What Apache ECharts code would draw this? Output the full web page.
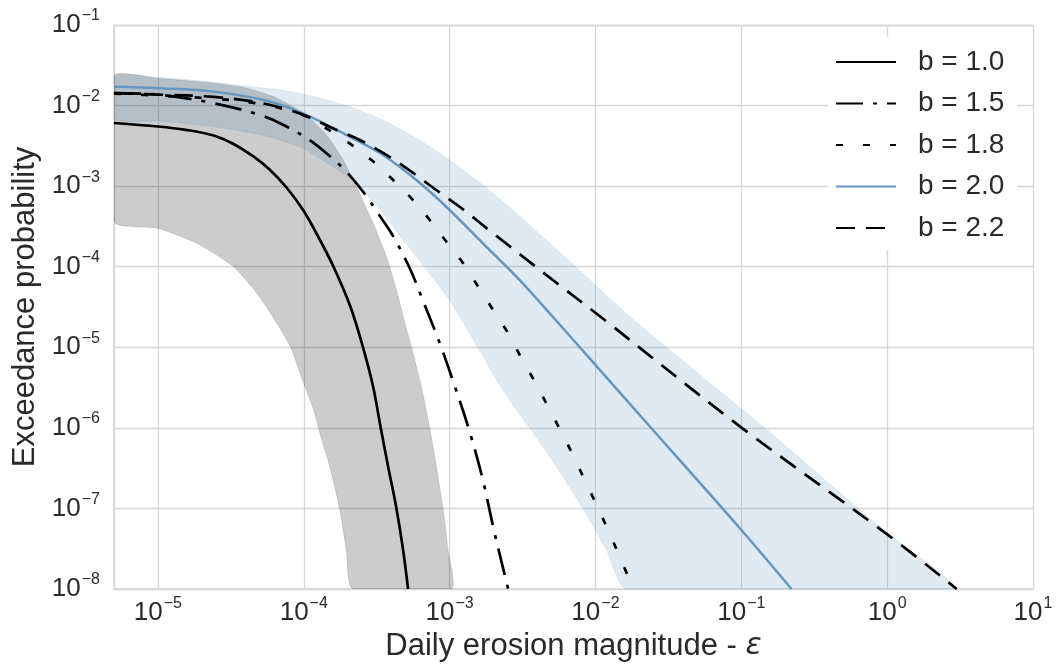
<!DOCTYPE html>
<html><head><meta charset="utf-8">
<script src="https://cdn.jsdelivr.net/npm/echarts@6/dist/echarts.min.js"></script>
<style>html,body{margin:0;padding:0;background:#fff}#c{width:1057px;height:670px}</style>
</head><body><div id="c"></div>
<script>
// ---- data (x = daily erosion magnitude, y = exceedance probability) ----
const seriesNames = ['b = 1.0', 'b = 1.5', 'b = 1.8', 'b = 2.0', 'b = 2.2'];
const xTickValues = [1e-5, 1e-4, 1e-3, 1e-2, 1e-1, 1e0, 1e1];
const yTickValues = [1e-8, 1e-7, 1e-6, 1e-5, 1e-4, 1e-3, 1e-2, 1e-1];

const b10 = [[5e-6,6.08e-3],[1e-5,5.50e-3],[1.55e-5,5.00e-3],[2.41e-5,4.26e-3],[3.25e-5,3.38e-3],[4.53e-5,2.32e-3],[5.83e-5,1.61e-3],[7.67e-5,9.48e-4],[1.0e-4,4.91e-4],[1.29e-4,2.15e-4],[1.60e-4,1.0e-4],[2.09e-4,3.19e-5],[2.54e-4,1.02e-5],[2.99e-4,3.24e-6],[3.37e-4,1.0e-6],[3.79e-4,3.30e-7],[4.32e-4,1.0e-7],[4.80e-4,3.05e-8],[5.19e-4,1e-8]];
const b15 = [[5e-6,1.43e-2],[1e-5,1.37e-2],[2.29e-5,1.09e-2],[5.04e-5,7.64e-3],[7.28e-5,5.74e-3],[1.05e-4,3.93e-3],[1.43e-4,2.56e-3],[1.96e-4,1.51e-3],[2.55e-4,8.53e-4],[3.23e-4,4.60e-4],[4.05e-4,2.48e-4],[5.32e-4,9.64e-5],[6.75e-4,3.35e-5],[8.55e-4,1.13e-5],[1.04e-3,4.12e-6],[1.34e-3,1.03e-6],[1.68e-3,2.37e-7],[2.0e-3,5.66e-8],[2.24e-3,2.40e-8],[2.52e-3,1e-8]];
const b18 = [[5e-6,1.41e-2],[1e-5,1.33e-2],[2.41e-5,1.22e-2],[4.98e-5,1.05e-2],[9.82e-5,7.64e-3],[1.43e-4,5.19e-3],[2.06e-4,3.40e-3],[2.91e-4,2.11e-3],[3.99e-4,1.25e-3],[5.47e-4,7.06e-4],[7.31e-4,3.80e-4],[9.51e-4,2.04e-4],[1.24e-3,1.10e-4],[1.57e-3,5.65e-5],[1.99e-3,2.90e-5],[2.52e-3,1.49e-5],[3.11e-3,7.29e-6],[3.84e-3,3.74e-6],[4.73e-3,1.83e-6],[5.78e-3,9.14e-7],[7.02e-3,4.60e-7],[8.44e-3,2.25e-7],[1.02e-2,1.10e-7],[1.22e-2,5.40e-8],[1.45e-2,2.64e-8],[1.82e-2,1e-8]];
const b20 = [[5e-6,1.71e-2],[1e-5,1.64e-2],[2.41e-5,1.49e-2],[5.31e-5,1.17e-2],[9.87e-5,8.02e-3],[2.06e-4,4.11e-3],[3.49e-4,2.44e-3],[5.92e-4,1.19e-3],[1.0e-3,5.06e-4],[1.69e-3,1.95e-4],[2.87e-3,7.52e-5],[4.86e-3,2.64e-5],[9.89e-3,6.17e-6],[2.36e-2,1.04e-6],[9.87e-2,5.56e-8],[0.221,1e-8]];
const b22 = [[5e-6,1.43e-2],[1e-5,1.37e-2],[2.41e-5,1.28e-2],[5.04e-5,1.08e-2],[9.64e-5,7.85e-3],[1.58e-4,5.22e-3],[2.42e-4,3.74e-3],[3.69e-4,2.44e-3],[5.47e-4,1.51e-3],[8.11e-4,8.95e-4],[1.21e-3,5.31e-4],[1.74e-3,3.14e-4],[2.52e-3,1.86e-4],[3.64e-3,1.10e-4],[5.26e-3,6.55e-5],[1.10e-2,2.34e-5],[9.87e-2,1.03e-6],[0.98,4.91e-8],[3.0,1e-8]];

const grayUpper = [[5e-6,2.33e-2],[1e-5,2.18e-2],[2.41e-5,1.89e-2],[4.08e-5,1.64e-2],[6.21e-5,1.29e-2],[8.0e-5,1.02e-2],[1.04e-4,7.64e-3],[1.43e-4,4.31e-3],[1.86e-4,2.11e-3],[2.30e-4,9.84e-4],[2.99e-4,3.46e-4],[3.69e-4,1.33e-4],[4.32e-4,5.14e-5],[5.08e-4,1.64e-5],[5.47e-4,1.02e-5],[6.41e-4,3.24e-6],[7.31e-4,1.0e-6],[8.12e-4,3.30e-7],[9.02e-4,1.0e-7],[9.75e-4,3.05e-8],[1.03e-3,1e-8]];
const grayLower = [[5e-6,3.62e-4],[1e-5,3.0e-4],[1.85e-5,1.95e-4],[3.30e-5,1.0e-4],[4.78e-5,4.68e-5],[6.55e-5,1.99e-5],[8.09e-5,1.02e-5],[1.0e-4,3.57e-6],[1.17e-4,1.67e-6],[1.33e-4,7.06e-7],[1.51e-4,3.30e-7],[1.76e-4,1.0e-7],[1.96e-4,3.05e-8],[2.17e-4,1e-8]];
const blueUpper = [[5e-6,2.33e-2],[1e-5,2.23e-2],[2.41e-5,1.96e-2],[4.31e-5,1.71e-2],[6.91e-5,1.56e-2],[1.17e-4,1.29e-2],[2.06e-4,9.69e-3],[3.49e-4,6.62e-3],[5.92e-4,3.93e-3],[1.0e-3,2.11e-3],[1.69e-3,1.03e-3],[2.87e-3,4.60e-4],[4.86e-3,1.95e-4],[1.83e-2,2.18e-5],[0.141,1.03e-6],[0.939,5.40e-8],[2.82,1e-8]];
const blueLower = [[5e-6,6.81e-3],[1e-5,6.43e-3],[2.41e-5,5.47e-3],[5.31e-5,4.26e-3],[9.64e-5,3.02e-3],[1.58e-4,1.74e-3],[2.06e-4,1.26e-3],[2.83e-4,7.13e-4],[3.88e-4,3.59e-4],[5.32e-4,1.71e-4],[7.31e-4,8.13e-5],[1.0e-3,3.86e-5],[1.53e-3,1.07e-5],[2.32e-3,2.95e-6],[3.54e-3,1.0e-6],[5.40e-3,3.30e-7],[8.22e-3,1e-7],[1.19e-2,3.05e-8],[1.63e-2,1e-8]];

// ---- chart ----
const FONT = '"Liberation Sans", Arial, sans-serif';
const TXT = '#2a2a2a';
const GRID = '#d6d6d6';

function isPow10(v) {
  const l = Math.log10(v);
  return Math.abs(l - Math.round(l)) < 1e-6;
}
function tickFmt(v) {
  if (!isPow10(v)) return '';
  const e = Math.round(Math.log10(v));
  return '{a|10}{b|' + (e < 0 ? '\u2212' + (-e) : String(e)) + '}';
}
const tickRich = {
  a: { fontSize: 26, lineHeight: 34, fontFamily: FONT, color: TXT, verticalAlign: 'middle' },
  b: { fontSize: 16, lineHeight: 16, fontFamily: FONT, color: TXT, verticalAlign: 'top', padding: [0, 0, 0, 1] }
};

function band(upper, lower, fill, stroke) {
  const pts = upper.concat(lower.slice().reverse());
  return {
    type: 'custom', silent: true, clip: true,
    data: pts, encode: { x: 0, y: 1 },
    renderItem: function (params, api) {
      if (params.dataIndex !== 0) return null;
      const cs = params.coordSys;
      return {
        type: 'polygon',
        shape: {
          points: pts.map(p => api.coord(p)),
          smooth: 0.2,
          smoothConstraint: [[cs.x, cs.y], [cs.x + cs.width, cs.y + cs.height]]
        },
        style: { fill: fill, stroke: stroke, lineWidth: 1 }
      };
    }
  };
}

function line(name, data, color, type, width) {
  return {
    name: name, type: 'line', data: data, symbol: 'none',
    smooth: 0.35,
    lineStyle: { color: color, width: width, type: type, cap: 'butt' },
    itemStyle: { color: color },
    z: 5
  };
}

const chart = echarts.init(document.getElementById('c'), null, { renderer: 'canvas' });
chart.setOption({
  animation: false,
  backgroundColor: '#ffffff',
  grid: { left: 114, right: 24, top: 25, bottom: 81, containLabel: false },
  xAxis: {
    type: 'log', logBase: 10, min: 5e-6, max: 10,
    name: '{n|Daily erosion magnitude - }{e|\u03b5}',
    nameLocation: 'middle', nameGap: 40,
    nameTextStyle: {
      rich: {
        n: { fontSize: 31, fontFamily: FONT, color: TXT },
        e: { fontSize: 30, fontFamily: '"DejaVu Sans", sans-serif', fontStyle: 'italic', color: TXT }
      }
    },
    axisLine: { show: true, lineStyle: { color: GRID, width: 1.5 } },
    axisTick: { show: false },
    splitLine: { show: true, lineStyle: { color: GRID, width: 1.3 } },
    axisLabel: { formatter: tickFmt, margin: 7, rich: tickRich }
  },
  yAxis: {
    type: 'log', logBase: 10, min: 1e-8, max: 1e-1,
    name: 'Exceedance probability',
    nameLocation: 'middle', nameGap: 70,
    nameTextStyle: { fontSize: 31, fontFamily: FONT, color: TXT },
    axisLine: { show: true, lineStyle: { color: GRID, width: 1.5 } },
    axisTick: { show: false },
    splitLine: { show: true, lineStyle: { color: GRID, width: 1.3 } },
    axisLabel: { formatter: tickFmt, margin: 14, rich: tickRich }
  },
  legend: {
    data: seriesNames,
    orient: 'vertical', align: 'left',
    left: 828, top: 37,
    padding: [10, 13, 7, 7],
    backgroundColor: '#ffffff',
    itemWidth: 60, itemHeight: 14, itemGap: 11.5,
    itemStyle: { opacity: 0 },
    textStyle: { fontSize: 28, lineHeight: 30, fontFamily: FONT, color: TXT, padding: [0, 0, 0, 17] }
  },
  series: [
    band(grayUpper, grayLower, 'rgba(0,0,0,0.2)', 'rgba(0,0,0,0.12)'),
    band(blueUpper, blueLower, 'rgba(70,130,180,0.17)', 'rgba(70,130,180,0.12)'),
    line(seriesNames[0], b10, '#000000', 'solid', 2.7),
    line(seriesNames[1], b15, '#000000', [27, 10, 4, 10], 2.7),
    line(seriesNames[2], b18, '#000000', [7, 20], 2.7),
    line(seriesNames[3], b20, '#6596c0', 'solid', 2.5),
    line(seriesNames[4], b22, '#000000', [19, 11], 2.7)
  ]
});
</script>
</body></html>
